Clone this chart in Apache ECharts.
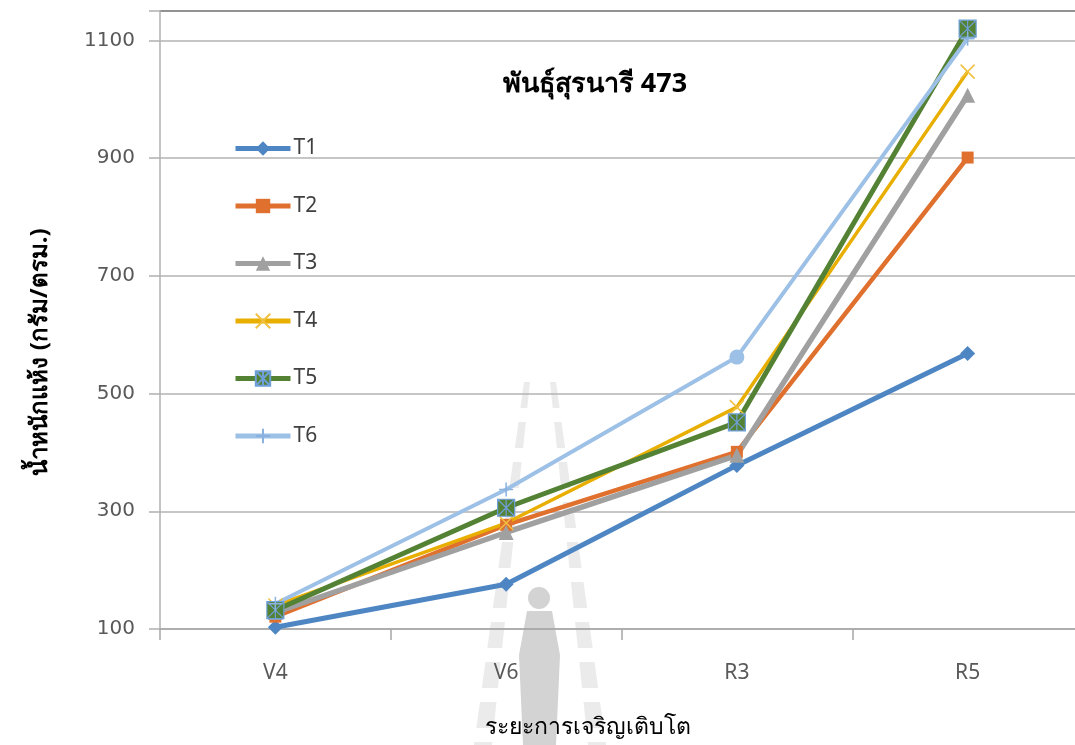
<!DOCTYPE html>
<html>
<head>
<meta charset="utf-8">
<script src="https://cdn.jsdelivr.net/npm/echarts@6/dist/echarts.min.js"></script>
<style>
  html, body { margin: 0; padding: 0; background: #ffffff; }
  #chart { width: 1075px; height: 745px; }
</style>
</head>
<body>
<div id="chart"></div>
<script>
// Growth stages on the x axis
const stages = ['V4', 'V6', 'R3', 'R5'];

// Dry weight (g/m²) per treatment at each stage
const t1 = [103, 176, 378, 568];
const t2 = [121, 277, 401, 901];
const t3 = [128, 264, 395, 1007];
const t4 = [140, 280, 477, 1047];
const t5 = [132, 306, 451, 1120];
const t6 = [143, 337, 562, 1103];

const seriesNames = ['T1', 'T2', 'T3', 'T4', 'T5', 'T6'];

// Y axis range and step
const yMin = 100;
const yMax = 1150;
const yStep = 200;

const FONT = '"Noto Sans", "DejaVu Sans", "Liberation Sans", sans-serif';
const NUM_FONT = '"DejaVu Sans", "Noto Sans", sans-serif';

const chart = echarts.init(document.getElementById('chart'), null, { renderer: 'canvas' });

function lineSeries(name, data, color, width, symbol, size, extraItem) {
  return {
    name: name,
    type: 'line',
    data: data,
    symbol: symbol,
    symbolSize: size,
    showAllSymbol: true,
    lineStyle: { color: color, width: width },
    itemStyle: Object.assign({ color: color }, extraItem || {}),
    emphasis: { disabled: true },
    z: 3
  };
}

// T6: plus markers, except a round marker at R3
const t6Data = t6.map((v, i) => i === 2
  ? { value: v, symbol: 'circle', symbolSize: 15, itemStyle: { color: '#9dc0e6', borderWidth: 0 } }
  : v);

// Faint background emblem: two dashed rails spreading downward and a standing figure
const RAIL = 'rgba(120,120,120,0.15)';
const FIGURE = 'rgba(110,110,110,0.30)';
function rail(side) {
  const out = [];
  const yTop = 382, yBot = 745;
  const edge = y => 540 + side * (10 + (y - yTop) / (yBot - yTop) * 38);
  const width = y => 6 + (y - yTop) / (yBot - yTop) * 12;
  for (let y = yTop; y < yBot; y += 40) {
    const y2 = Math.min(y + 26, yBot);
    const a = edge(y), b = edge(y2);
    out.push({
      type: 'polygon',
      shape: { points: [[a, y], [a + side * width(y), y], [b + side * width(y2), y2], [b, y2]] },
      style: { fill: RAIL }
    });
  }
  return out;
}
const emblem = [].concat(
  rail(-1),
  rail(1),
  [
    { type: 'circle', shape: { cx: 539, cy: 598, r: 11 }, style: { fill: FIGURE } },
    { type: 'polygon', shape: { points: [[527, 611], [552, 611], [560, 655], [556, 745], [523, 745], [519, 655]] }, style: { fill: FIGURE } }
  ]
).map(el => Object.assign(el, { silent: true, z: -10 }));

const option = {
  backgroundColor: '#ffffff',
  animation: false,
  graphic: emblem,
  title: {
    text: 'พันธุ์สุรนารี 473',
    left: 590,
    textAlign: 'center',
    top: 66,
    textStyle: { fontFamily: FONT, fontSize: 27, fontWeight: 'bold', color: '#000000' }
  },
  legend: {
    data: seriesNames,
    orient: 'vertical',
    left: 233,
    top: 138,
    padding: 0,
    itemWidth: 55,
    itemHeight: 18,
    itemGap: 36.5,
    lineStyle: { width: 5 },
    textStyle: { fontFamily: FONT, fontSize: 21, color: '#404040', padding: [0, 0, 0, -2] },
    selectedMode: false
  },
  grid: { left: 160, top: 11, right: -8, bottom: 116, outerBoundsMode: 'none', containLabel: false },
  xAxis: {
    type: 'category',
    data: stages,
    boundaryGap: true,
    name: 'ระยะการเจริญเติบโต',
    nameLocation: 'middle',
    nameGap: 87,
    nameTextStyle: { fontFamily: FONT, fontSize: 23, color: '#000000', padding: [0, 68, 0, 0] },
    axisLine: { show: true, lineStyle: { color: '#a6a6a6', width: 1.5 } },
    axisTick: { show: true, length: 11, lineStyle: { color: '#a6a6a6', width: 1.5 } },
    axisLabel: { fontFamily: FONT, fontSize: 21, color: '#595959', margin: 34 },
    splitLine: { show: false }
  },
  yAxis: {
    type: 'value',
    min: yMin,
    max: yMax,
    interval: yStep,
    name: 'น้ำหนักแห้ง (กรัม/ตรม.)',
    nameLocation: 'middle',
    nameRotate: 90,
    nameGap: 108,
    nameTextStyle: { fontFamily: FONT, fontSize: 24, fontWeight: 'bold', color: '#000000', padding: [0, 64, 0, 0] },
    axisLine: { show: true, lineStyle: { color: '#b0b0b0', width: 1.5 } },
    axisTick: { show: true, length: 11, lineStyle: { color: '#b0b0b0', width: 1.5 } },
    axisLabel: {
      fontFamily: NUM_FONT, fontSize: 20, color: '#595959', margin: 25,
      formatter: v => (v > 1100 ? '' : String(v))
    },
    splitLine: {
      show: true,
      lineStyle: { color: ['#b3b3b3', '#b3b3b3', '#b3b3b3', '#b3b3b3', '#b3b3b3', '#b3b3b3', '#6e6e6e'], width: 1.5 }
    }
  },
  series: [
    lineSeries('T1', t1, '#4e86c4', 5, 'diamond', 15),
    lineSeries('T2', t2, '#e0702e', 4.5, 'rect', 12),
    lineSeries('T3', t3, '#a0a0a0', 5.5, 'triangle', 15),
    lineSeries('T4', t4, '#e8ae00', 3.5, 'path://M0,0L10,10M10,0L0,10', 14,
      { color: '#e8ae00', borderColor: '#f0c040', borderWidth: 1.5 }),
    lineSeries('T5', t5, '#548235', 5, 'path://M0,0H10V10H0Z M0,0L10,10M10,0L0,10M5,0L5,10', 17,
      { color: '#548235', borderColor: '#6f9fd8', borderWidth: 1.2 }),
    lineSeries('T6', t6Data, '#9dc0e6', 4, 'path://M5,0L5,10M0,5L10,5', 14,
      { color: '#9dc0e6', borderColor: '#8ab2e0', borderWidth: 1.5 })
  ]
};

chart.setOption(option);
</script>
</body>
</html>
